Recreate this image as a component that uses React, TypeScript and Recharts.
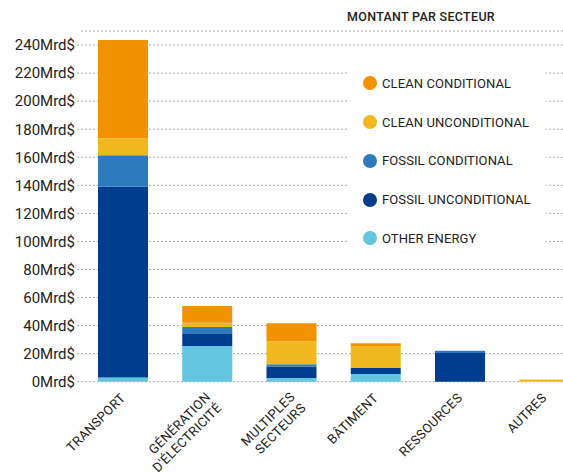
import { BarChart, Bar, XAxis, YAxis, CartesianGrid } from "recharts";

// Montant par secteur, en milliards de dollars
const sectors = [
  "TRANSPORT",
  "GÉNÉRATION\nD'ÉLECTRICITÉ",
  "MULTIPLES\nSECTEURS",
  "BÂTIMENT",
  "RESSOURCES",
  "AUTRES",
];
const otherEnergy = [3, 25.5, 2.6, 5.5, 0, 0];
const fossilUnconditional = [136, 8.5, 8.3, 4.3, 20.5, 0];
const fossilConditional = [22.5, 5, 1.6, 0, 1.6, 0];
const cleanUnconditional = [12, 3, 16.4, 15.7, 0, 1.5];
const cleanConditional = [70, 12, 12.8, 1.9, 0, 0];
const yTicks = [0, 20, 40, 60, 80, 100, 120, 140, 160, 180, 200, 220, 240];

const SERIES = [
  { key: "otherEnergy", label: "OTHER ENERGY", color: "#63C5DF" },
  { key: "fossilUnconditional", label: "FOSSIL UNCONDITIONAL", color: "#003D8F" },
  { key: "fossilConditional", label: "FOSSIL CONDITIONAL", color: "#2D7BBD" },
  { key: "cleanUnconditional", label: "CLEAN UNCONDITIONAL", color: "#F2B81F" },
  { key: "cleanConditional", label: "CLEAN CONDITIONAL", color: "#F39200" },
];

const data = sectors.map((name, i) => ({
  name,
  otherEnergy: otherEnergy[i],
  fossilUnconditional: fossilUnconditional[i],
  fossilConditional: fossilConditional[i],
  cleanUnconditional: cleanUnconditional[i],
  cleanConditional: cleanConditional[i],
}));

const FONT = "Roboto, 'Noto Sans', sans-serif";
const TEXT = "#222";

// rotated sector names, multi-line ones split on "\n"
function SectorTick({ x, y, payload }: { x: number; y: number; payload: { value: string } }) {
  const lines = String(payload.value).split("\n");
  const ax = x + (lines.length > 1 ? 4 : 3);
  const ay = y + (lines.length > 1 ? 16 : 17);
  return (
    <text
      x={ax}
      y={ay}
      textAnchor="end"
      fill={TEXT}
      fontSize={13}
      letterSpacing={0.3}
      transform={`rotate(-45, ${ax}, ${ay})`}
    >
      {lines.map((line, i) => (
        <tspan key={i} x={ax} dy={i === 0 ? 0 : 15.5}>
          {line}
        </tspan>
      ))}
    </text>
  );
}

function SectorLegend() {
  return (
    <>
      <div
        style={{
          position: "absolute",
          left: 347,
          top: 9,
          fontSize: 12.5,
          fontWeight: 500,
          letterSpacing: 0.3,
          color: TEXT,
          lineHeight: "16px",
        }}
      >
        MONTANT PAR SECTEUR
      </div>
      <div
        style={{
          position: "absolute",
          left: 348,
          top: 58,
          width: 198,
          height: 198,
          background: "#fff",
        }}
      >
        {[...SERIES].reverse().map((s, i) => (
          <div
            key={s.key}
            style={{
              position: "absolute",
              left: 15,
              top: 25.3 + i * 38.75 - 8,
              height: 16,
              display: "flex",
              alignItems: "center",
            }}
          >
            <span
              style={{
                width: 14,
                height: 14,
                borderRadius: "50%",
                background: s.color,
                display: "inline-block",
                marginRight: 5,
              }}
            />
            <span
              style={{
                fontSize: 13,
                fontWeight: 400,
                letterSpacing: 0.1,
                color: TEXT,
                whiteSpace: "nowrap",
              }}
            >
              {s.label}
            </span>
          </div>
        ))}
      </div>
    </>
  );
}

export default function App() {
  return (
    <div
      style={{
        position: "fixed",
        left: 0,
        top: 0,
        width: 563,
        height: 473,
        overflow: "hidden",
        background: "#fff",
        fontFamily: FONT,
      }}
    >
      <BarChart
        width={590}
        height={473}
        data={data}
        margin={{ top: 31, right: 3.5, bottom: 0, left: 0 }}
        barSize={50}
      >
        <CartesianGrid vertical={false} stroke="#aaa" strokeDasharray="2 2" />
        <XAxis
          dataKey="name"
          axisLine={false}
          tickLine={false}
          tickSize={0}
          tickMargin={0}
          height={91.3}
          interval={0}
          tick={SectorTick}
        />
        <YAxis
          type="number"
          domain={[0, 250]}
          ticks={yTicks}
          width={81}
          axisLine={false}
          tickSize={4}
          tickMargin={2}
          tickLine={{ stroke: "#aaa", strokeDasharray: "2 2" }}
          tickFormatter={(v: number) => `${v}Mrd$`}
          tick={{ fontSize: 15, fill: TEXT }}
        />
        {SERIES.map((s) => (
          <Bar key={s.key} dataKey={s.key} stackId="a" fill={s.color} isAnimationActive={false} />
        ))}
      </BarChart>
      <SectorLegend />
    </div>
  );
}
